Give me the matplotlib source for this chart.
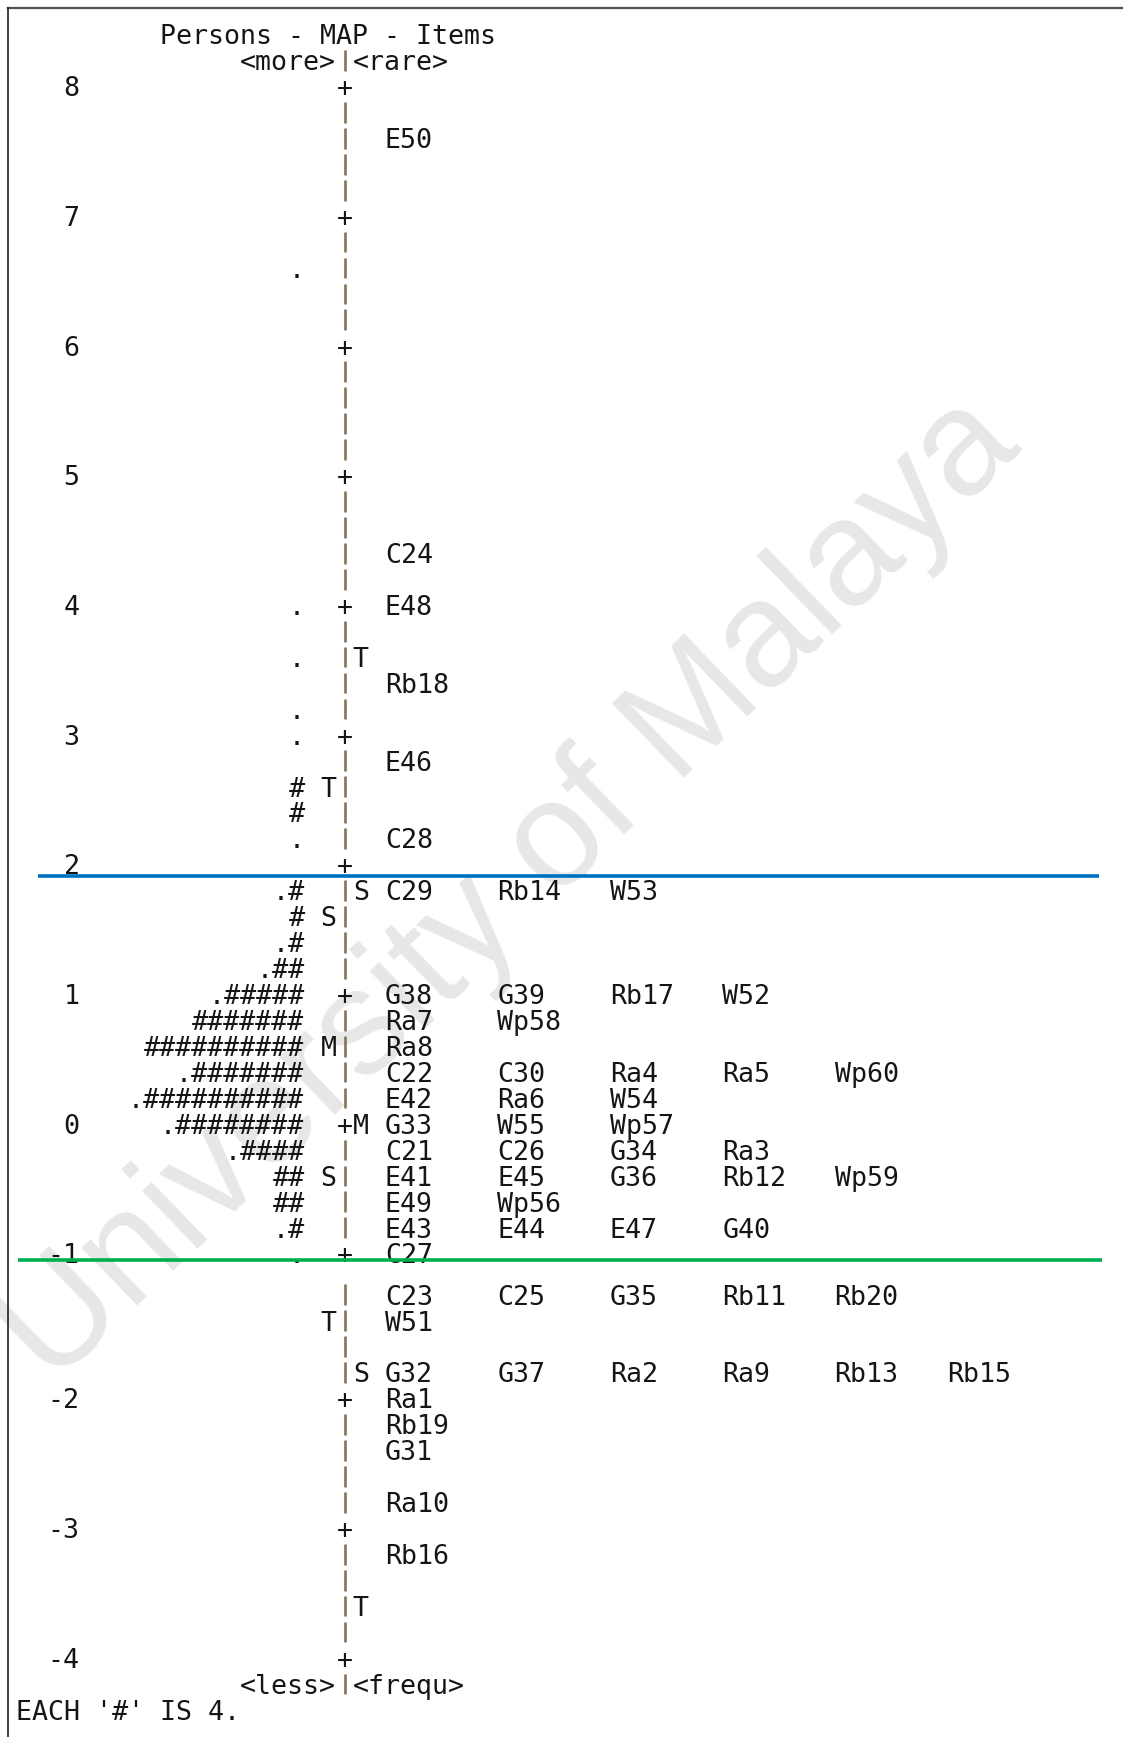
import numpy as np
import matplotlib
matplotlib.use("Agg")
import matplotlib.pyplot as plt
from matplotlib.lines import Line2D

# Person-item map (logit scale), each '#' = 4 persons, '.' = 1-3
measure_ticks = [8, 7, 6, 5, 4, 3, 2, 1, 0, -1, -2, -3, -4]

person_logits = [6.6, 4.0, 3.6, 3.2, 3.0, 2.6, 2.4, 2.2, 1.8, 1.6, 1.4, 1.2,
                 1.0, 0.8, 0.6, 0.4, 0.2, 0.0, -0.2, -0.4, -0.6, -0.8, -1.0]
person_bars = [".", ".", ".", ".", ".", "#", "#", ".", ".#", "#", ".#", ".##",
               ".#####", "#######", "##########", ".#######", ".##########",
               ".########", ".####", "##", "##", ".#", "."]

# mean / 1 SD / 2 SD markers
person_mark_logits = [2.6, 1.6, 0.6, -0.4, -1.4]
person_mark_labels = ["T", "S", "M", "S", "T"]
item_mark_logits = [3.6, 1.8, 0.0, -1.8, -3.6]
item_mark_labels = ["T", "S", "M", "S", "T"]

item_logits = [7.6, 4.4, 4.0, 3.4, 2.8, 2.2, 1.8, 1.0, 0.8, 0.6, 0.4, 0.2, 0.0,
               -0.2, -0.4, -0.6, -0.8, -1.0, -1.2, -1.4, -1.8, -2.0, -2.2, -2.4,
               -2.8, -3.2]
item_labels = [
    ["E50"], ["C24"], ["E48"], ["Rb18"], ["E46"], ["C28"],
    ["C29", "Rb14", "W53"],
    ["G38", "G39", "Rb17", "W52"],
    ["Ra7", "Wp58"],
    ["Ra8"],
    ["C22", "C30", "Ra4", "Ra5", "Wp60"],
    ["E42", "Ra6", "W54"],
    ["G33", "W55", "Wp57"],
    ["C21", "C26", "G34", "Ra3"],
    ["E41", "E45", "G36", "Rb12", "Wp59"],
    ["E49", "Wp56"],
    ["E43", "E44", "E47", "G40"],
    ["C27"],
    ["C23", "C25", "G35", "Rb11", "Rb20"],
    ["W51"],
    ["G32", "G37", "Ra2", "Ra9", "Rb13", "Rb15"],
    ["Ra1"], ["Rb19"], ["G31"], ["Ra10"], ["Rb16"],
]

high_cut = 1.91    # blue separator
low_cut = -0.93    # green separator

# page geometry (pixels)
W, H = 1123, 1737
Y8 = 86.4          # row of logit 8
UNIT = 129.7       # pixels per logit
CUT = 1258         # where the page is split
SHIFT = 15.2       # offset of the lower part
X0, CELL = 15.5, 16.06
BASE = 9.75 / UNIT
FONT = dict(family="DejaVu Sans Mono", fontsize=19.2, color="#151515")
BAR_COL = "#8a7157"

fig = plt.figure(figsize=(W / 100, H / 100), dpi=100)
fig.patch.set_facecolor("white")

fig.text(0.455, 0.487, "University of Malaya", rotation=44, fontsize=108,
         family="Liberation Sans", color="#e7e7e7", ha="center", va="center",
         zorder=-1)


def make_axes(top_px, bot_px, shift):
    ax = fig.add_axes([0, 1 - bot_px / H, 1, (bot_px - top_px) / H])
    ax.set_xlim(-X0 / CELL, (W - X0) / CELL)
    ax.set_ylim(8 - (bot_px - shift - Y8) / UNIT, 8 - (top_px - shift - Y8) / UNIT)
    ax.axis("off")
    return ax


ax_up = make_axes(0, CUT, 0)
ax_lo = make_axes(CUT, H, SHIFT)


def pick(v):
    return ax_up if v > -1.1 else ax_lo


def put(ax, cell, v, s):
    t = ax.text(cell, v - BASE, s, ha="left", va="baseline", **FONT)
    t.set_clip_path(ax.patch)
    return t


# header / footer
put(ax_up, 9, 8.4, "Persons - MAP - Items")
put(ax_up, 14, 8.2, "<more>")
put(ax_up, 21, 8.2, "<rare>")
put(ax_lo, 14, -4.2, "<less>")
put(ax_lo, 21, -4.2, "<frequ>")
put(ax_lo, 0, -4.4, "EACH '#' IS 4.")

# vertical axis: '+' at whole logits, '|' between
rows = np.round(np.arange(8.2, -4.21, -0.2), 1)
for v in rows:
    ax = pick(v)
    if v in measure_ticks:
        put(ax, 20, v, "+")
        lab = str(int(v))
        put(ax, 4 - len(lab), v, lab)
    else:
        ax.vlines(20.5, v - 0.08, v + 0.08, color=BAR_COL, lw=1.9)

# persons
for v, s in zip(person_logits, person_bars):
    put(pick(v), 18 - len(s), v, s)
for v, s in zip(person_mark_logits, person_mark_labels):
    put(pick(v), 19, v, s)

# items
for v, s in zip(item_mark_logits, item_mark_labels):
    put(pick(v), 21, v, s)
for v, labs in zip(item_logits, item_labels):
    for k, s in enumerate(labs):
        put(pick(v), 23 + 7 * k, v, s)

# separators
ax_up.plot([1.4, 67.47], [high_cut, high_cut], color="#0070c0", lw=2.6,
           solid_capstyle="butt", clip_on=False)
ax_lo.plot([0.16, 67.65], [low_cut, low_cut], color="#00b050", lw=2.6,
           solid_capstyle="butt", clip_on=False)

# page frame
fig.add_artist(Line2D([7.5 / W, 1], [1 - 7.5 / H, 1 - 7.5 / H],
                      transform=fig.transFigure, color="#505050", lw=1.6))
fig.add_artist(Line2D([7.75 / W, 7.75 / W], [0, 1 - 7.5 / H],
                      transform=fig.transFigure, color="#202020", lw=1.2))

fig.savefig("out.png", dpi=100, facecolor="white")
